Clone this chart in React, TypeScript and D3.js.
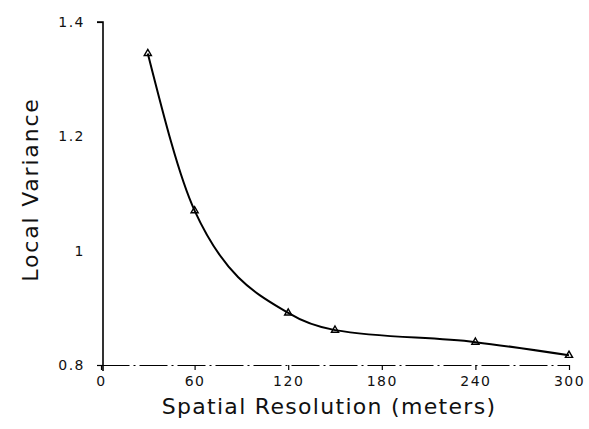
import React, { useEffect, useRef } from 'react';
import * as d3 from 'd3';

const resolution = [30, 60, 120, 150, 240, 300];
const localVariance = [1.345, 1.07, 0.891, 0.861, 0.84, 0.817];
const xTicks = [0, 60, 120, 180, 240, 300];
const yTicks = [0.8, 1, 1.2, 1.4];

const width = 589;
const height = 429;
const margin = { top: 22, right: 20, bottom: 64, left: 101 };

export default function App() {
  const ref = useRef<SVGSVGElement>(null);

  useEffect(() => {
    const svg = d3.select(ref.current);
    svg.selectAll('*').remove();
    const font = '"DejaVu Sans", Lato, sans-serif';

    const x = d3.scaleLinear().domain([0, 300]).range([margin.left, 569]);
    const y = d3.scaleLinear().domain([0.8, 1.4]).range([height - margin.bottom, margin.top]);

    // y axis
    const gy = svg.append('g').attr('transform', `translate(${margin.left + 2},0)`);
    gy.call(d3.axisLeft(y).tickValues(yTicks).tickSize(6).tickPadding(12)
      .tickFormat(d => (d === 1 ? '1' : d3.format('.1f')(d as number))));
    gy.select('.domain').attr('stroke-width', 1.6).attr('d', `M-6,${y(1.4)}H0V${y(0.8) + 6}`);
    gy.selectAll('.tick line').attr('stroke-width', 1.2)
      .filter(d => d !== 1.4 && d !== 0.8).remove();
    gy.selectAll('.tick text').attr('font-family', font).attr('font-size', 14)
      .attr('letter-spacing', 1.5).attr('fill', '#111');

    // x axis
    const gx = svg.append('g').attr('transform', `translate(0,${y(0.8)})`);
    gx.call(d3.axisBottom(x).tickValues(xTicks).tickSize(5).tickPadding(6).tickSizeOuter(0));
    gx.select('.domain').attr('stroke-width', 1.1).attr('stroke-dasharray', '28,4,2,4');
    gx.selectAll('.tick line').attr('stroke-width', 1.2);
    gx.selectAll('.tick text').attr('font-family', font).attr('font-size', 14)
      .attr('letter-spacing', 1.5).attr('fill', '#111');

    // curve
    const pts = resolution.map((r, i) => [r, localVariance[i]] as [number, number]);
    const line = d3.line<[number, number]>()
      .x(d => x(d[0]))
      .y(d => y(d[1]))
      .curve(d3.curveMonotoneX);
    svg.append('path').datum(pts).attr('d', line).attr('fill', 'none')
      .attr('stroke', '#000').attr('stroke-width', 2);

    // markers
    const tri = d3.symbol().type(d3.symbolTriangle).size(22);
    svg.selectAll('.mk').data(pts).join('path')
      .attr('transform', d => `translate(${x(d[0])},${y(d[1])})`)
      .attr('d', tri).attr('fill', 'none').attr('stroke', '#000').attr('stroke-width', 1.4);

    // titles
    svg.append('text').attr('x', 329).attr('y', 414).attr('text-anchor', 'middle')
      .attr('font-family', font).attr('font-size', 22).attr('letter-spacing', 1.3)
      .attr('fill', '#111')
      .text('Spatial Resolution (meters)');
    svg.append('text').attr('transform', `translate(38,${(y(0.8) + y(1.4)) / 2 - 4}) rotate(-90)`)
      .attr('text-anchor', 'middle')
      .attr('font-family', font).attr('font-size', 22).attr('letter-spacing', 1.8)
      .attr('fill', '#111')
      .text('Local Variance');
  }, []);

  return (
    <svg ref={ref} width={width} height={height}
      style={{ position: 'absolute', left: 0, top: 0, background: '#fff' }} />
  );
}
